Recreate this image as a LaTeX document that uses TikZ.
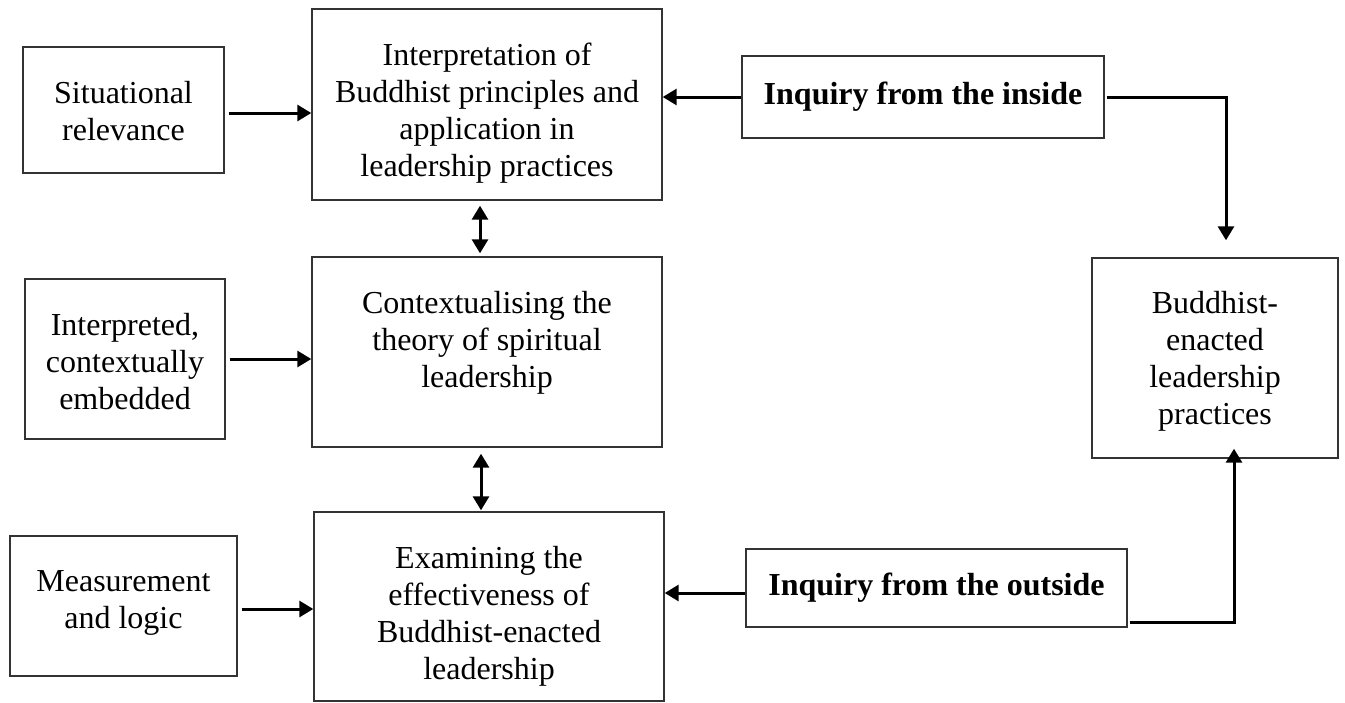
\documentclass[tikz,border=0pt]{standalone}
\usepackage{fontspec}
\setmainfont{Liberation Serif}
\usetikzlibrary{arrows.meta,calc}
\newcommand\shiftbox[2]{\raisebox{#1}[\height][\depth]{\begin{tabular}{@{}c@{}}#2\end{tabular}}}
\begin{document}
\begin{tikzpicture}[x=0.5pt,y=-0.5pt,
  box/.style={draw=black!80, line width=0.7pt, rectangle, align=center, inner sep=0pt,
    font=\fontsize{16}{18.5}\selectfont},
  conn/.style={line width=1.5pt, -{Triangle[length=7pt,width=8pt]}},
  both/.style={line width=1.5pt, {Triangle[length=7pt,width=8pt]}-{Triangle[length=7pt,width=8pt]}}]
\useasboundingbox (0,0) rectangle (1345,702);
\node[box, minimum width=100.5pt, minimum height=63pt] (sit) at (123.5,110)
  {\shiftbox{-2.5pt}{Situational\\relevance}};
\node[box, minimum width=175pt, minimum height=95.5pt] (interp) at (487,104.5)
  {\shiftbox{-4.5pt}{Interpretation of\\Buddhist principles and\\application in\\leadership practices}};
\node[box, minimum width=181pt, minimum height=41pt] (inside) at (923,97)
  {\bfseries Inquiry from the inside};
\node[box, minimum width=123pt, minimum height=100pt] (bud) at (1215,358)
  {\shiftbox{-2pt}{Buddhist-\\enacted\\leadership\\practices}};
\node[box, minimum width=100pt, minimum height=80pt] (intd) at (125,359)
  {\shiftbox{-3pt}{Interpreted,\\contextually\\embedded}};
\node[box, minimum width=175pt, minimum height=95pt] (ctx) at (487,352)
  {\shiftbox{4.5pt}{Contextualising the\\theory of spiritual\\leadership}};
\node[box, minimum width=113.5pt, minimum height=70pt] (meas) at (123.5,606)
  {\shiftbox{1.5pt}{Measurement\\and logic}};
\node[box, minimum width=175pt, minimum height=94.5pt] (exam) at (489,606.5)
  {\shiftbox{-5pt}{Examining the\\effectiveness of\\Buddhist-enacted\\leadership}};
\node[box, minimum width=190.5pt, minimum height=39pt] (outside) at (936.5,588)
  {\bfseries Inquiry from the outside};

\draw[conn] ($(sit.east)+(2pt,-1.5pt)$) -- ($(sit.east -| interp.west)+(0,-1.5pt)$);
\draw[conn] ($(intd.east)+(2pt,0)$) -- (intd.east -| ctx.west);
\draw[conn] ($(meas.east)+(2pt,-1.5pt)$) -- ($(meas.east -| exam.west)+(0,-1.5pt)$);
\draw[both] ($(interp.south)+(-3.5pt,-2.5pt)$) -- ($(ctx.north)+(-3.5pt,1.5pt)$);
\draw[both] ($(ctx.south)+(-3pt,-3pt)$) -- ($(exam.north)+(-4pt,0.5pt)$);
\draw[conn] (inside.west) -- (inside.west -| interp.east);
\draw[conn] ($(inside.east)+(1pt,0)$) -| ($(bud.north)+(5.5pt,8.5pt)$);
\draw[conn] ($(outside.west)+(0,-2.5pt)$) -- ($(outside.west -| exam.east)+(0,-2.5pt)$);
\draw[conn] ($(outside.east)+(1pt,-17pt)$) -| ($(bud.south)+(9.5pt,5pt)$);
\end{tikzpicture}
\end{document}
